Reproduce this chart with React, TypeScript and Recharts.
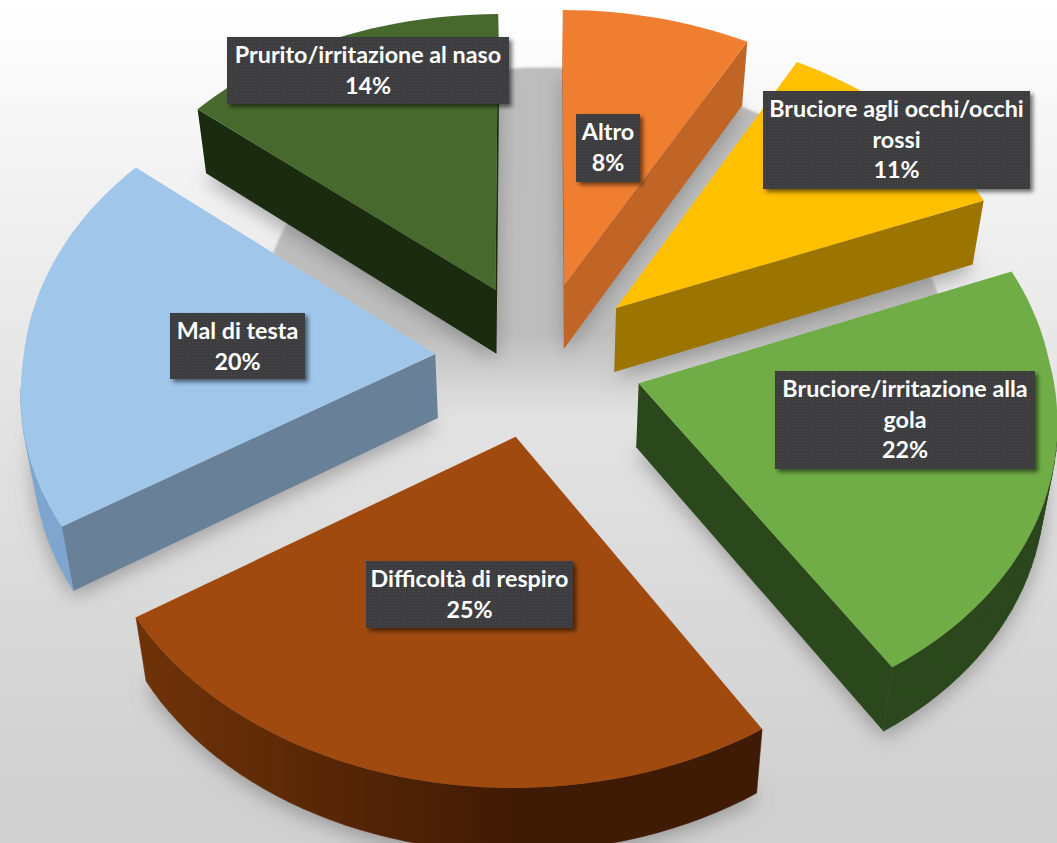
import { Pie, PieChart } from 'recharts'

const categories = [
  'Altro',
  'Bruciore agli occhi/occhi rossi',
  'Bruciore/irritazione alla gola',
  'Difficoltà di respiro',
  'Mal di testa',
  'Prurito/irritazione al naso',
]
const values = [8, 11, 22, 25, 20, 14]
const labelLines = [
  ['Altro'],
  ['Bruciore agli occhi/occhi', 'rossi'],
  ['Bruciore/irritazione alla', 'gola'],
  ['Difficoltà di respiro'],
  ['Mal di testa'],
  ['Prurito/irritazione al naso'],
]

const topColors = ['#F07E31', '#FFC000', '#70AD47', '#A04A0F', '#A0C6EA', '#47692D']
const radialColors = ['#C06526', '#9C7500', '#2B471C', '#5A2608', '#688199', '#1A2B10']
const outerColors = ['#C06526', '#9C7500', '#2B471C', 'url(#diffOuter)', '#7EA6CF', '#1A2B10']

// x, y, width, height of the dark label boxes
const labelBoxes = [
  [576, 114, 64, 68],
  [763, 91, 267, 98],
  [775, 371, 260, 98],
  [366, 561, 207, 67],
  [170, 313, 135, 66],
  [227, 37, 282, 67],
]

const data = categories.map((name, i) => ({ name, value: values[i] }))
const floorData = [{ name: 'floor', value: values.reduce((a, b) => a + b, 0) }]

const TILT = 0.75
const VIEW_DIST = 5030
const VIEW_DIST_BACK = 6000
const VIEW_DIST_FRONT = 4000
const EXPLODE = 104
const DEPTH = 64
const BASE_SHRINK = 0.975

type Pt = [number, number]

// recharts angles -> flat pie plane -> screen with a bit of perspective
function project(cx: number, cy: number, angle: number, r: number, mid: number, explode: number): Pt {
  const a = ((90 - angle) * Math.PI) / 180
  const m = ((90 - mid) * Math.PI) / 180
  const X = r * Math.sin(a) + explode * Math.sin(m)
  const Y = -r * Math.cos(a) - explode * Math.cos(m)
  const s = 1 / (1 - Y / VIEW_DIST)
  const sx = 1 / (1 - Y / (Y < 0 ? VIEW_DIST_BACK : VIEW_DIST_FRONT))
  return [cx + X * sx, cy + TILT * Y * s]
}

function outline(p: any, explode: number): Pt[] {
  const { cx, cy, outerRadius, startAngle, endAngle, midAngle } = p
  const pts: Pt[] = [project(cx, cy, 0, 0, midAngle, explode)]
  const steps = Math.ceil(Math.abs(endAngle - startAngle) / 2)
  for (let i = 0; i <= steps; i++) {
    const ang = startAngle + ((endAngle - startAngle) * i) / steps
    pts.push(project(cx, cy, ang, outerRadius, midAngle, explode))
  }
  return pts
}

const lower = (pt: Pt, cx: number): Pt => [cx + (pt[0] - cx) * BASE_SHRINK, pt[1] + DEPTH]
const toPath = (pts: Pt[]) =>
  'M' + pts.map((q) => `${q[0].toFixed(1)},${q[1].toFixed(1)}`).join('L') + 'Z'

// only the quads that look towards the viewer (walking clockwise: moving left on screen)
function facePath(pts: Pt[], cx: number) {
  let d = ''
  for (let i = 0; i < pts.length - 1; i++) {
    const a = pts[i]
    const b = pts[i + 1]
    if (b[0] < a[0]) d += toPath([a, b, lower(b, cx), lower(a, cx)])
  }
  return d
}

function FloorShape(p: any) {
  const pts = outline(p, 0).slice(1)
  const moved = pts.map((q): Pt => [q[0] < p.cx ? p.cx + (q[0] - p.cx) * 0.7 : q[0], q[1] - 6])
  return <path d={toPath(moved)} fill="url(#floorFill)" filter="url(#softer)" />
}

function ShadowShape(p: any) {
  const pts = outline(p, EXPLODE).map((q) => lower(q, p.cx))
  const moved = pts.map((q): Pt => [q[0], q[1] + 6])
  return <path d={toPath(moved)} fill="#6f6f6f" fillOpacity={0.6} filter="url(#blurShadow)" />
}

function SliceShape(p: any) {
  const i = categories.indexOf(p.name)
  const pts = outline(p, EXPLODE)
  const last = pts.length - 1
  const startEdge = facePath([pts[0], pts[1]], p.cx)
  const endEdge = facePath([pts[last], pts[0]], p.cx)
  const outer = facePath(pts.slice(1), p.cx)
  return (
    <g>
      <path d={outer} fill={outerColors[i]} stroke={outerColors[i]} strokeWidth={0.6} />
      <path d={startEdge + endEdge} fill={radialColors[i]} />
      <path d={toPath(pts)} fill={topColors[i]} />
    </g>
  )
}

function SliceLabel(p: any) {
  const i = categories.indexOf(p.name)
  const [x, y, w, h] = labelBoxes[i]
  const lines = [...labelLines[i], `${Math.round(p.percent * 100)}%`]
  return (
    <g>
      <rect x={x} y={y} width={w} height={h} fill="#3D3D3F" filter="url(#boxShadow)" />
      <rect x={x} y={y} width={w} height={h} fill="url(#boxDots)" />
      {lines.map((t, n) => (
        <text
          key={n}
          x={x + w / 2}
          y={y + 26 + n * 30.5}
          textAnchor="middle"
          fill="#fff"
          fontFamily="Lato"
          fontWeight={700}
          fontSize={23.3}
        >
          {t}
        </text>
      ))}
    </g>
  )
}

const CX = 539
const CY = 359
const RADIUS = 412

export default function App() {
  return (
    <div
      style={{
        position: 'fixed',
        left: 0,
        top: 0,
        width: 1057,
        height: 843,
        background: 'linear-gradient(#ffffff 0px, #f1f1f1 200px, #e2e2e2 430px, #d0d0d0 800px)',
      }}
    >
      <PieChart width={1057} height={843} margin={{ top: 0, right: 0, bottom: 0, left: 0 }}>
        <defs>
          <linearGradient id="floorFill" gradientUnits="userSpaceOnUse" x1="0" y1="70" x2="0" y2="420">
            <stop offset="0.75" stopColor="#bdbdbd" />
            <stop offset="1" stopColor="#bdbdbd" stopOpacity={0} />
          </linearGradient>
          <linearGradient id="diffOuter" gradientUnits="userSpaceOnUse" x1="150" y1="0" x2="520" y2="0">
            <stop offset="0" stopColor="#6E3208" />
            <stop offset="1" stopColor="#3F1A04" />
          </linearGradient>
          <pattern id="boxDots" width="3" height="3" patternUnits="userSpaceOnUse">
            <rect width="1" height="1" fill="#4a4a4c" />
          </pattern>
          <filter id="softer" x="-5%" y="-5%" width="110%" height="110%">
            <feGaussianBlur stdDeviation="1" />
          </filter>
          <filter id="blurShadow" x="-30%" y="-30%" width="160%" height="160%">
            <feGaussianBlur stdDeviation="10" />
          </filter>
          <filter id="boxShadow" x="-20%" y="-20%" width="140%" height="140%">
            <feDropShadow dx="3" dy="3" stdDeviation="2" floodColor="#000" floodOpacity="0.55" />
          </filter>
        </defs>
        <Pie
          data={floorData}
          dataKey="value"
          cx={CX}
          cy={CY}
          outerRadius={RADIUS}
          startAngle={90}
          endAngle={-270}
          paddingAngle={0}
          shape={FloorShape}
          inactiveShape={FloorShape}
          isAnimationActive={false}
        />
        <Pie
          data={data}
          dataKey="value"
          cx={CX}
          cy={CY}
          outerRadius={RADIUS}
          startAngle={90}
          endAngle={-270}
          shape={ShadowShape}
          inactiveShape={ShadowShape}
          isAnimationActive={false}
        />
        <Pie
          data={data}
          dataKey="value"
          cx={CX}
          cy={CY}
          outerRadius={RADIUS}
          startAngle={90}
          endAngle={-270}
          shape={SliceShape}
          inactiveShape={SliceShape}
          label={SliceLabel}
          labelLine={false}
          isAnimationActive={false}
        />
      </PieChart>
    </div>
  )
}
